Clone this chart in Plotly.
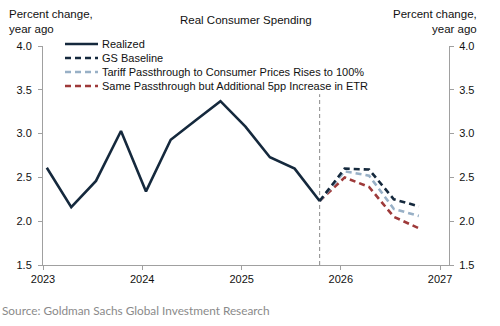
import plotly.graph_objects as go

# ---- data ----
realized_dates = ["2023-01-15", "2023-04-15", "2023-07-15", "2023-10-15",
                  "2024-01-15", "2024-04-15", "2024-07-15", "2024-10-15",
                  "2025-01-15", "2025-04-15", "2025-07-15", "2025-10-15"]
realized = [2.61, 2.16, 2.46, 3.03, 2.34, 2.93, 3.15, 3.37, 3.08, 2.73, 2.60, 2.23]

forecast_dates = ["2025-10-15", "2026-01-15", "2026-04-15", "2026-07-15", "2026-10-15"]
gs_baseline = [2.23, 2.60, 2.59, 2.25, 2.17]
tariff_100 = [2.23, 2.57, 2.52, 2.14, 2.06]
extra_etr = [2.23, 2.50, 2.39, 2.05, 1.92]

forecast_start = "2025-10-15"
forecast_line_y = [1.5, 3.45]

names = ["Realized", "GS Baseline", "Tariff Passthrough to Consumer Prices Rises to 100%",
         "Same Passthrough but Additional 5pp Increase in ETR"]
colors = ["#15293d", "#15293d", "#98b0c6", "#9e3a3a"]
dashes = ["solid", "6px,4px", "6px,4px", "6px,4px"]

y_ticks = [1.5, 2.0, 2.5, 3.0, 3.5, 4.0]
x_range = ["2023-01-01", "2027-02-03"]

FONT = "Liberation Sans, Arial, sans-serif"

fig = go.Figure()

# vertical forecast marker
fig.add_trace(go.Scatter(x=[forecast_start, forecast_start], y=forecast_line_y, mode="lines",
                         line=dict(color="#8a8a8a", width=1, dash="4px,3px"),
                         showlegend=False, hoverinfo="skip"))

series = [(realized_dates, realized), (forecast_dates, gs_baseline),
          (forecast_dates, tariff_100), (forecast_dates, extra_etr)]
for i in [3, 2, 1, 0]:
    xs, ys = series[i]
    fig.add_trace(go.Scatter(x=xs, y=ys, mode="lines", name=names[i],
                             line=dict(color=colors[i], width=2.6, dash=dashes[i]),
                             showlegend=False))

# right axis mirror
fig.add_trace(go.Scatter(x=[realized_dates[0]], y=[realized[0]], yaxis="y2",
                         mode="markers", marker=dict(opacity=0), showlegend=False,
                         hoverinfo="skip"))

L, R, T, B = 43, 51, 46, 61
W, H = 500, 326
pw, ph = W - L - R, H - T - B

def px_x(p):
    return (p - L) / pw

def px_y(p):
    return (H - B - p) / ph

shapes = []
annotations = []
row_y = [44, 58, 72, 86]
for i, nm in enumerate(names):
    yy = px_y(row_y[i])
    shapes.append(dict(type="line", xref="paper", yref="paper",
                       x0=px_x(65), x1=px_x(98), y0=yy, y1=yy,
                       line=dict(color=colors[i], width=2.6, dash=dashes[i] if i else "solid")))
    annotations.append(dict(xref="paper", yref="paper", x=px_x(100), y=yy, text=nm,
                            showarrow=False, xanchor="left", yanchor="middle",
                            font=dict(family=FONT, size=11, color="#111")))

annotations.append(dict(xref="paper", yref="paper", x=px_x(7), y=px_y(6), text="Percent change,<br>year ago",
                        showarrow=False, xanchor="left", yanchor="top", align="left",
                        font=dict(family=FONT, size=11.5, color="#111")))
annotations.append(dict(xref="paper", yref="paper", x=px_x(479), y=px_y(6), text="Percent change,<br>year ago",
                        showarrow=False, xanchor="right", yanchor="top", align="right",
                        font=dict(family=FONT, size=11.5, color="#111")))
annotations.append(dict(xref="paper", yref="paper", x=px_x(246), y=px_y(20), text="Real Consumer Spending",
                        showarrow=False, xanchor="center", yanchor="middle",
                        font=dict(family=FONT, size=11.5, color="#111")))
annotations.append(dict(xref="paper", yref="paper", x=px_x(0), y=px_y(310),
                        text="Source: Goldman Sachs Global Investment Research",
                        showarrow=False, xanchor="left", yanchor="middle",
                        font=dict(family="Lato, sans-serif", size=11.8, color="#8a8a8a")))

axis_common = dict(showline=True, linecolor="#a0a0a0", linewidth=1, ticks="outside",
                   ticklen=4, tickcolor="#a0a0a0", showgrid=False, zeroline=False,
                   tickfont=dict(family=FONT, size=11, color="#111"))

fig.update_layout(
    width=W, height=H, margin=dict(l=L, r=R, t=T, b=B),
    paper_bgcolor="white", plot_bgcolor="white",
    showlegend=False,
    xaxis=dict(type="date", range=x_range, dtick="M12", tick0="2023-01-01", tickformat="%Y",
               **axis_common),
    yaxis=dict(range=[1.5, 4.0], tickvals=y_ticks, tickformat=".1f", ticklabelstandoff=4,
               **axis_common),
    yaxis2=dict(range=[1.5, 4.0], tickvals=y_ticks, tickformat=".1f", overlaying="y",
                side="right", ticklabelstandoff=3, **axis_common),
    shapes=shapes, annotations=annotations,
)

fig.write_html("out.html")
